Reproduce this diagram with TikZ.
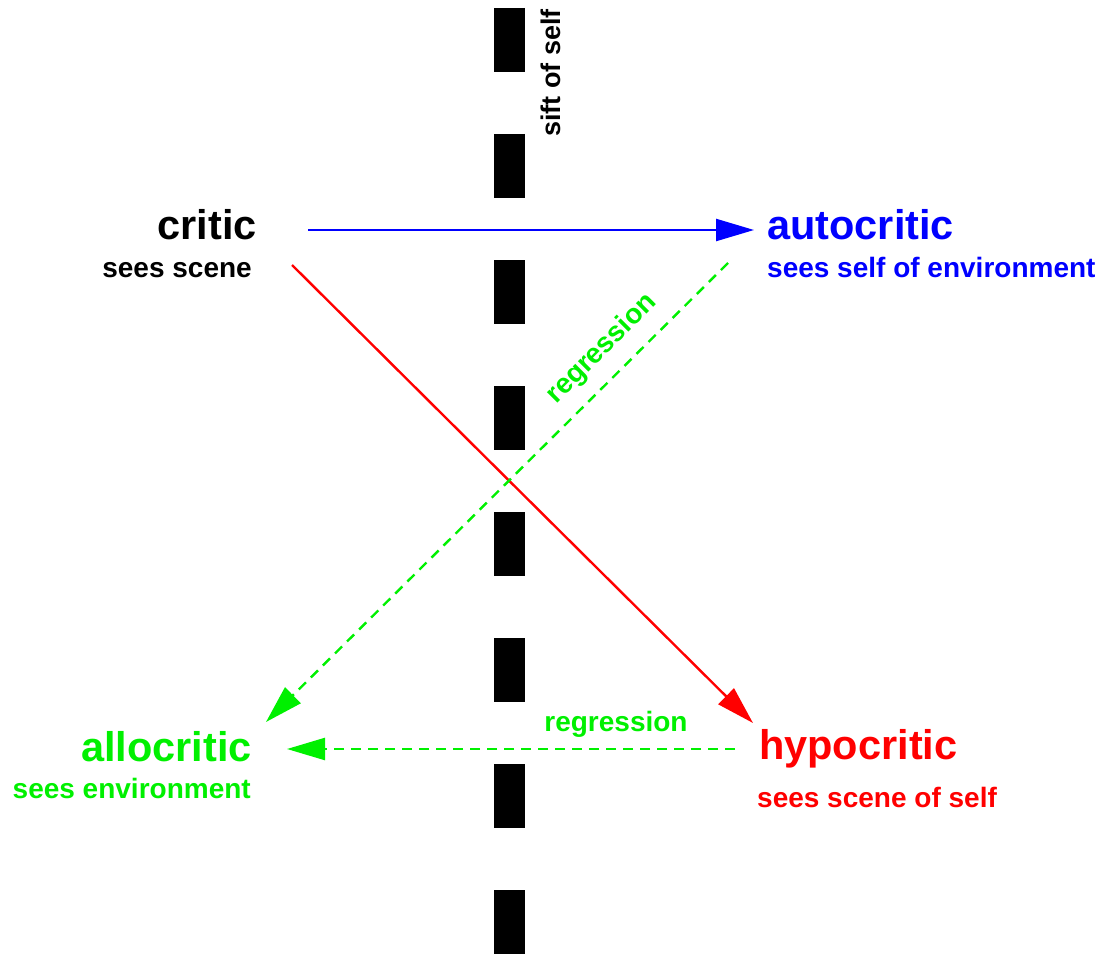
\documentclass[tikz,border=0pt]{standalone}
\usepackage{fontspec}
\setmainfont{Liberation Sans}
\usetikzlibrary{arrows.meta}
\definecolor{cblue}{RGB}{0,0,255}
\definecolor{cred}{RGB}{255,0,0}
\definecolor{cgreen}{RGB}{0,240,0}
\begin{document}
\begin{tikzpicture}[x=1pt,y=-1pt,
  title/.style={inner sep=0pt,font=\fontsize{41.5}{48}\selectfont\bfseries},
  note/.style={inner sep=0pt,font=\fontsize{28}{34}\selectfont\bfseries},
  link/.style={line width=2.4pt},
  tip/.style={-{Triangle[length=38pt,width=22pt]}},
  regr/.style={link,tip,cgreen,dash pattern=on 10pt off 7pt},
  divider/.style={line width=31pt,dash pattern=on 64pt off 62pt}]
\useasboundingbox (0,0) rectangle (1117,955);

% dividing bar
\coordinate (bar-top) at (509.5,8);
\coordinate (bar-bottom) at (509.5,955);
\draw[divider] (bar-top) -- (bar-bottom);
\node[note,rotate=90,font=\fontsize{27}{32}\selectfont\bfseries] (sift) at (551,73) {sift of self};

% the four stances
\node[title,anchor=base east] (critic) at (257,239) {critic};
\node[note,anchor=base east] (critic-sub) at (252,277) {sees scene};

\node[title,anchor=base west,text=cblue] (auto) at (767,239) {autocritic};
\node[note,anchor=base west,text=cblue] (auto-sub) at (767,277) {sees self of environment};

\node[title,anchor=base east,text=cgreen] (allo) at (252,761) {allocritic};
\node[note,anchor=base east,text=cgreen] (allo-sub) at (251,798) {sees environment};

\node[title,anchor=base west,text=cred] (hypo) at (759,759) {hypocritic};
\node[note,anchor=base west,text=cred] (hypo-sub) at (757,807) {sees scene of self};

% connector ends
\coordinate (critic-a) at (308,230);
\coordinate (critic-b) at (292,265);
\coordinate (auto-in) at (754,230);
\coordinate (auto-out) at (728,263);
\coordinate (hypo-in) at (753,723);
\coordinate (hypo-out) at (735,749);
\coordinate (allo-in-a) at (266,722);
\coordinate (allo-in-b) at (287,749);

\draw[link,tip,cblue] (critic-a) -- (auto-in);
\draw[link,tip,cred] (critic-b) -- (hypo-in);
\draw[regr] (auto-out) -- (allo-in-a);
\draw[regr] (hypo-out) -- (allo-in-b);

\node[note,text=cgreen,rotate=45] (regr-a) at (602,349) {regression};
\node[note,text=cgreen,anchor=base] (regr-b) at (616,731) {regression};
\end{tikzpicture}
\end{document}
